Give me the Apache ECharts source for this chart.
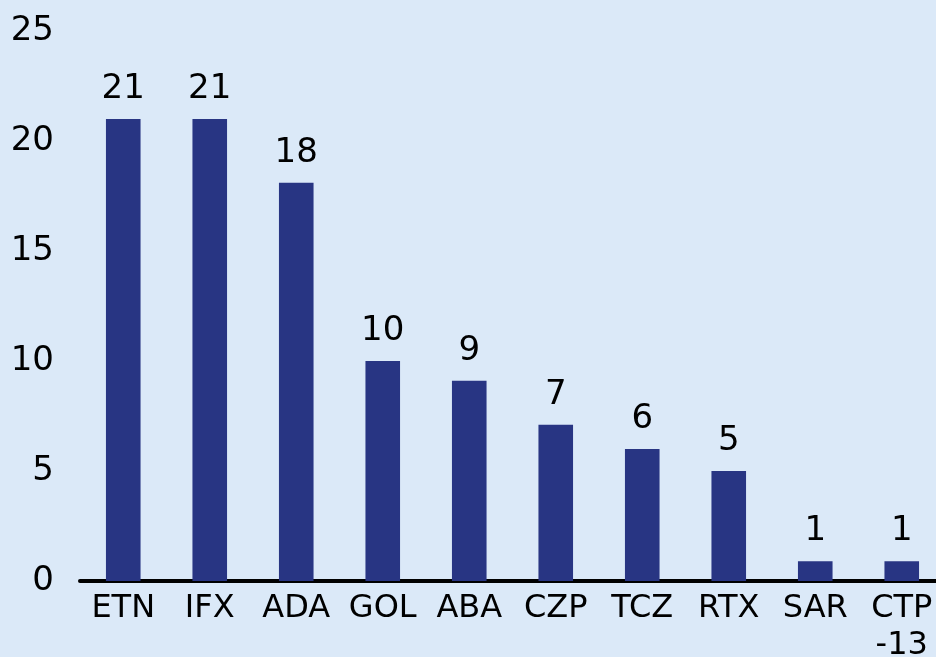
<!DOCTYPE html>
<html>
<head>
<meta charset="utf-8">
<script src="https://cdn.jsdelivr.net/npm/echarts@6/dist/echarts.min.js"></script>
<style>
  html, body { margin: 0; padding: 0; background: #dbe9f8; }
  #chart { width: 936px; height: 657px; }
</style>
</head>
<body>
<div id="chart"></div>
<script>
const categories = ["ETN", "IFX", "ADA", "GOL", "ABA", "CZP", "TCZ", "RTX", "SAR", "CTP\n-13"];
const values = [21.0, 21.0, 18.1, 10.0, 9.1, 7.1, 6.0, 5.0, 0.9, 0.9];
const yTicks = [0, 5, 10, 15, 20, 25];

const font = "DejaVu Sans";
const chart = echarts.init(document.getElementById("chart"), null, { renderer: "canvas" });
chart.setOption({
  backgroundColor: "#dbe9f8",
  animation: false,
  grid: {
    left: 80, right: -9, top: 31, bottom: 76,
    containLabel: false,
    outerBoundsMode: "none",
  },
  xAxis: {
    type: "category",
    data: categories,
    axisLine: { show: true, lineStyle: { color: "#000", width: 4 } },
    axisTick: { show: false },
    axisLabel: {
      color: "#000",
      fontFamily: font,
      fontSize: 32,
      lineHeight: 37,
      margin: 9,
      interval: 0,
    },
  },
  yAxis: {
    type: "value",
    min: yTicks[0],
    max: yTicks[yTicks.length - 1],
    interval: 5,
    axisLine: { show: false },
    axisTick: { show: false },
    splitLine: { show: false },
    axisLabel: {
      color: "#000",
      fontFamily: font,
      fontSize: 34,
      margin: 26,
    },
  },
  series: [
    {
      type: "bar",
      data: values,
      barWidth: "40%",
      itemStyle: { color: "#283583" },
      label: {
        show: true,
        position: "top",
        distance: 13,
        color: "#000",
        fontFamily: font,
        fontSize: 34,
        formatter: (p) => Math.round(p.value),
      },
    },
  ],
});
</script>
</body>
</html>
